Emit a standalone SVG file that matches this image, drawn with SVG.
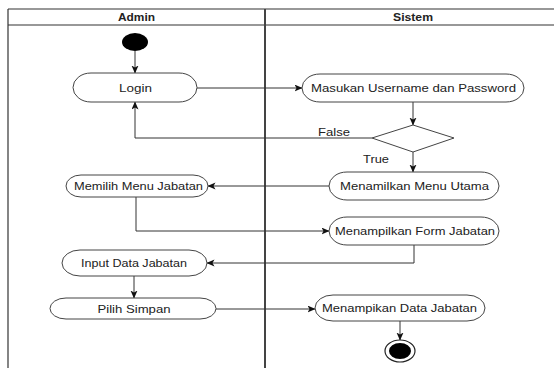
<svg xmlns="http://www.w3.org/2000/svg" width="554" height="368" viewBox="0 0 554 368">
<defs>
<style>
.lane{stroke:#333;stroke-width:1.2;fill:none}
.div{stroke:#444;stroke-width:2;fill:none}
.node{fill:#fff;stroke:#444;stroke-width:1}
.edge{stroke:#333;stroke-width:1;fill:none;marker-end:url(#arr)}
.t{font-family:"Liberation Sans",Arial,sans-serif;font-size:11px;fill:#222;text-anchor:middle}
.h{font-weight:bold}
.lbl{font-family:"Liberation Sans",Arial,sans-serif;font-size:11px;fill:#222}
</style>
<marker id="arr" markerWidth="8" markerHeight="8" refX="7.5" refY="3.5" orient="auto" markerUnits="userSpaceOnUse">
<path d="M0,0 L8,3.5 L0,7 L2,3.5 z" fill="#111"/>
</marker>
</defs>
<rect width="554" height="368" fill="#fff"/>
<g id="swimlanes">
<line class="lane" x1="8" y1="9" x2="554" y2="9"/>
<line class="lane" x1="8" y1="25" x2="554" y2="25"/>
<line class="lane" x1="8" y1="9" x2="8" y2="368"/>
<line class="div" x1="265" y1="9" x2="265" y2="368"/>
<text class="t h" x="136.5" y="21" textLength="37" lengthAdjust="spacingAndGlyphs">Admin</text>
<text class="t h" x="413" y="21" textLength="40" lengthAdjust="spacingAndGlyphs">Sistem</text>
</g>
<g id="connectors">
<path class="edge" d="M135,51 L135,73"/>
<path class="edge" d="M197,88 L302,88"/>
<path class="edge" d="M413,102 L413,125"/>
<path class="edge" d="M372,138 L135,138 L135,102"/>
<path class="edge" d="M413,152 L413,172"/>
<path class="edge" d="M329,186 L208,186"/>
<path class="edge" d="M136,197 L136,231 L329,231"/>
<path class="edge" d="M414,245 L414,263 L207,263"/>
<path class="edge" d="M134,276 L134,298"/>
<path class="edge" d="M216,309 L315,309"/>
<path class="edge" d="M400,321 L400,340"/>
<text class="lbl" x="318" y="136" textLength="32" lengthAdjust="spacingAndGlyphs">False</text>
<text class="lbl" x="363" y="163" textLength="26" lengthAdjust="spacingAndGlyphs">True</text>
</g>
<g id="start"><ellipse cx="135" cy="42" rx="13" ry="9" fill="#000"/></g>
<g id="login">
<rect class="node" x="73" y="73" width="124" height="29" rx="18" ry="14.5"/>
<text class="t" x="135.5" y="92" textLength="33" lengthAdjust="spacingAndGlyphs">Login</text>
</g>
<g id="masukan">
<rect class="node" x="302" y="74" width="222" height="28" rx="18" ry="14"/>
<text class="t" x="413.5" y="92" textLength="205" lengthAdjust="spacingAndGlyphs">Masukan Username dan Password</text>
</g>
<g id="decision">
<polygon class="node" points="413,125 454,138 413,152 372,138"/>
</g>
<g id="menu-utama">
<rect class="node" x="329" y="172" width="170" height="28" rx="18" ry="14"/>
<text class="t" x="414.5" y="190" textLength="149" lengthAdjust="spacingAndGlyphs">Menamilkan Menu Utama</text>
</g>
<g id="memilih">
<rect class="node" x="66" y="175" width="142" height="22" rx="15" ry="11"/>
<text class="t" x="138.5" y="189.5" textLength="129" lengthAdjust="spacingAndGlyphs">Memilih Menu Jabatan</text>
</g>
<g id="form">
<rect class="node" x="329" y="217" width="170" height="28" rx="18" ry="14"/>
<text class="t" x="415" y="235" textLength="160" lengthAdjust="spacingAndGlyphs">Menampilkan Form Jabatan</text>
</g>
<g id="input">
<rect class="node" x="62" y="250" width="145" height="26" rx="18" ry="13"/>
<text class="t" x="134" y="267" textLength="106" lengthAdjust="spacingAndGlyphs">Input Data Jabatan</text>
</g>
<g id="simpan">
<rect class="node" x="50" y="298" width="166" height="21" rx="16" ry="10.5"/>
<text class="t" x="134" y="312.5" textLength="73" lengthAdjust="spacingAndGlyphs">Pilih Simpan</text>
</g>
<g id="data">
<rect class="node" x="315" y="295" width="170" height="26" rx="18" ry="13"/>
<text class="t" x="399.5" y="312" textLength="155" lengthAdjust="spacingAndGlyphs">Menampikan Data Jabatan</text>
</g>
<g id="end">
<ellipse cx="400" cy="351" rx="15" ry="11" fill="#fff" stroke="#222" stroke-width="1.2"/>
<ellipse cx="400" cy="351" rx="11" ry="8" fill="#000"/>
</g>
</svg>
